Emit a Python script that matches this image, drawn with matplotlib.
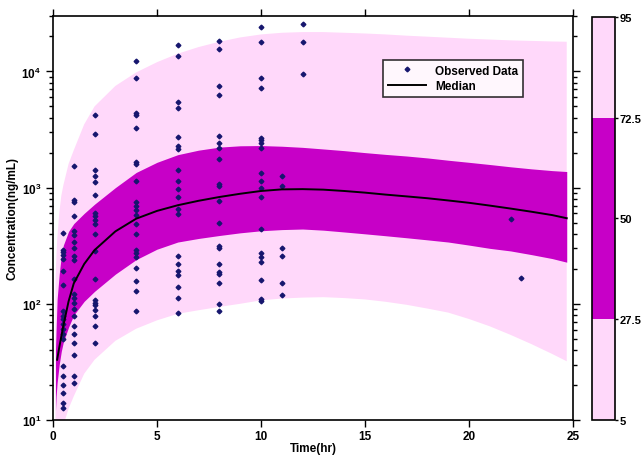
import numpy as np
import matplotlib
matplotlib.use("Agg")
import matplotlib.pyplot as plt
from matplotlib.colors import ListedColormap, BoundaryNorm
from matplotlib.colorbar import ColorbarBase

plt.rcParams["font.family"] = ["Liberation Sans", "DejaVu Sans"]
plt.rcParams["font.weight"] = "bold"
plt.rcParams["mathtext.fontset"] = "custom"
plt.rcParams["mathtext.rm"] = "Liberation Sans:bold"
plt.rcParams["mathtext.bf"] = "Liberation Sans:bold"

LIGHT = "#FFD8FA"
DARK = "#C700C7"
DOT = "#16166E"

# simulated percentile bands (time in hr, conc in ng/mL)
band_t = [0.12, 0.15, 0.2, 0.3, 0.4, 0.5, 0.75, 1, 1.5, 2, 3, 4, 5, 6, 7, 8, 9, 10,
          11, 12, 13, 14, 15, 16, 17, 18, 19, 20, 21, 22, 23, 24, 24.7]
p95 = [150, 220, 350, 600, 850, 1050, 1600, 2100, 3500, 5000, 7500, 9800, 12000, 14200,
       16200, 18000, 19600, 20800, 21500, 21800, 21800, 21500, 21200, 20800, 20300,
       19900, 19500, 19100, 18800, 18500, 18300, 18100, 18000]
p725 = [40, 60, 110, 180, 260, 320, 420, 490, 600, 720, 1000, 1350, 1650, 1920, 2100,
        2230, 2290, 2300, 2270, 2220, 2150, 2080, 2000, 1930, 1870, 1800, 1720, 1650,
        1580, 1510, 1450, 1400, 1375]
p275 = [12, 16, 21, 30, 39, 47, 63, 80, 105, 128, 180, 240, 295, 340, 365, 387, 408,
        425, 435, 440, 430, 415, 400, 385, 370, 355, 340, 320, 300, 285, 265, 245, 228]
p05 = [1, 1.5, 2.5, 4.5, 7, 9, 12.5, 16, 25, 33, 48, 61, 72, 82, 88, 94, 100, 107,
       111, 113, 114, 112, 109, 104, 98, 91, 84, 74, 64, 54, 45, 37, 32]

med_t = [0.2, 0.3, 0.5, 0.75, 1, 1.5, 2, 3, 4, 5, 6, 7, 8, 9, 10, 11, 12, 13, 14, 15,
         16, 17, 18, 19, 20, 21, 22, 23, 24, 24.7]
median = [33, 42, 65, 105, 150, 220, 290, 420, 540, 630, 705, 770, 830, 885, 935, 965,
          970, 960, 935, 905, 870, 840, 810, 775, 740, 700, 660, 620, 580, 545]

# observed data, grouped by sampling time
obs = {
    0.5: [408, 293, 278, 264, 244, 193, 146, 87, 79, 74, 67, 61, 55, 50, 29, 24, 20, 17,
          14, 12.8],
    1: [1530, 776, 750, 568, 419, 392, 343, 301, 260, 236, 164, 122, 112, 102, 90, 79,
        65, 55, 46, 36, 24, 21],
    2: [4240, 2890, 1415, 1250, 1115, 866, 607, 568, 531, 488, 400, 282, 162, 107, 102,
        97, 89, 78, 65, 46],
    4: [12200, 8830, 4350, 4200, 3270, 1660, 1600, 1130, 759, 701, 644, 583, 488, 400,
        293, 274, 252, 203, 158, 130, 87],
    6: [17000, 13700, 5450, 4870, 2720, 2280, 2160, 1430, 1150, 977, 838, 656, 594, 260,
        221, 193, 178, 139, 112, 83],
    8: [18300, 15500, 7560, 6210, 2780, 2430, 2190, 1770, 1080, 1030, 774, 498, 317, 301,
        219, 187, 182, 151, 100, 86],
    10: [24100, 17900, 8770, 7190, 2690, 2550, 2420, 2190, 1325, 1145, 990, 838, 436, 274,
         252, 228, 160, 110, 105],
    11: [1270, 1023, 303, 260, 151, 118],
    12: [25400, 17900, 9550],
    22: [540],
    22.5: [168],
}
obs_time = np.concatenate([[t] * len(v) for t, v in obs.items()])
obs_conc = np.concatenate([v for v in obs.values()])

fig = plt.figure(figsize=(6.43, 4.56), dpi=100)
ax = fig.add_axes([0.0824, 0.0768, 0.8087, 0.886])

ax.fill_between(band_t, p05, p95, color=LIGHT, lw=0)
ax.fill_between(band_t, p275, p725, color=DARK, lw=0)
ax.plot(obs_time, obs_conc, ls="none", marker="D", ms=2.4, color=DOT,
        label="Observed Data")
ax.plot(med_t, median, color="black", lw=1.4, label="Median")

ax.set_yscale("log")
ax.set_xlim(0, 25)
ax.set_ylim(10, 3.0e4)
ax.set_xticks([0, 5, 10, 15, 20, 25])
ax.set_yticks([10, 100, 1000, 10000])
ax.set_yticklabels([r"$10^1$", r"$10^2$", r"$10^3$", r"$10^4$"])
ax.tick_params(which="both", direction="out", top=True, right=True,
               labeltop=False, labelright=False, labelsize=8.5, width=1)
ax.tick_params(which="major", length=5)
ax.tick_params(which="minor", length=3)
ax.tick_params(axis="x", which="minor", top=False, bottom=False)
ax.tick_params(axis="x", pad=2)
for s in ax.spines.values():
    s.set_linewidth(1.2)
ax.set_xlabel("Time(hr)", fontsize=8.5, fontweight="bold", labelpad=0)
ax.set_ylabel("Concentration(ng/mL)", fontsize=8.5, fontweight="bold", labelpad=2)

leg = ax.legend(loc="upper right", bbox_to_anchor=(0.915, 0.906), fontsize=8.5,
                frameon=True, fancybox=False, edgecolor="black", handlelength=3.2,
                borderpad=0.4, labelspacing=0.3, markerscale=1.0)
leg.get_frame().set_linewidth(1.2)
for txt in leg.get_texts():
    txt.set_fontweight("bold")

# percentile colour bar
cb_bounds = [5, 27.5, 72.5, 95]
cb_ticks = [5, 27.5, 50, 72.5, 95]
cax = fig.add_axes([0.9207, 0.0768, 0.0358, 0.884])
cmap = ListedColormap([LIGHT, DARK, LIGHT])
norm = BoundaryNorm(cb_bounds, cmap.N)
cb = ColorbarBase(cax, cmap=cmap, norm=norm, boundaries=cb_bounds, ticks=cb_ticks,
                  spacing="proportional")
cb.set_ticklabels(["5", "27.5", "50", "72.5", "95"])
cb.outline.set_linewidth(1.2)
cax.tick_params(labelsize=8, length=2, width=1, pad=1)

fig.savefig("out.png", dpi=100)
